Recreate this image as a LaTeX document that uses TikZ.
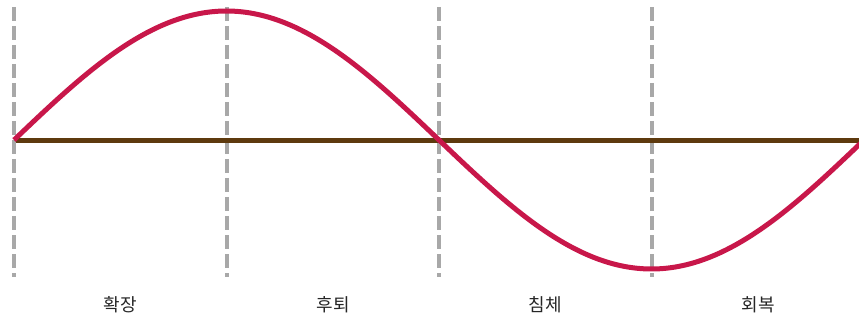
\documentclass[tikz,border=0pt]{standalone}
\usepackage{fontspec}
\newfontfamily\krfont{Noto Sans CJK KR}
\definecolor{wave}{HTML}{C8174A}
\definecolor{axisbrown}{HTML}{5E3A0E}
\definecolor{guide}{HTML}{A8A8A8}
\begin{document}
\begin{tikzpicture}[x=1pt,y=-1pt,
  guideline/.style={guide,line width=4pt,dash pattern=on 14pt off 5pt},
  phase/.style={font=\krfont\fontsize{18}{20}\selectfont,text=black!85,anchor=center}]
\useasboundingbox (0,0) rectangle (859,323);
\foreach \i/\xx in {0/14,1/226.5,2/439,3/651.5}{
  \coordinate (t\i) at (\xx,7);
  \coordinate (b\i) at (\xx,277);
  \draw[guideline] (t\i) -- (b\i);
}
\coordinate (axL) at (16,141);
\coordinate (axR) at (859,141);
\draw[axisbrown,line width=5pt] (axL) -- (axR);
\begin{scope}
\clip (0,0) rectangle (859,323);
\draw[wave,line width=5pt,line join=round] plot[domain=14:862,samples=300,smooth] (\x,{140-129*sin(0.4235294*(\x-14))});
\end{scope}
\node[phase] (p1) at (120,305) {확장};
\node[phase] (p2) at (333,305) {후퇴};
\node[phase] (p3) at (545,305) {침체};
\node[phase] (p4) at (758,305) {회복};
\end{tikzpicture}
\end{document}
